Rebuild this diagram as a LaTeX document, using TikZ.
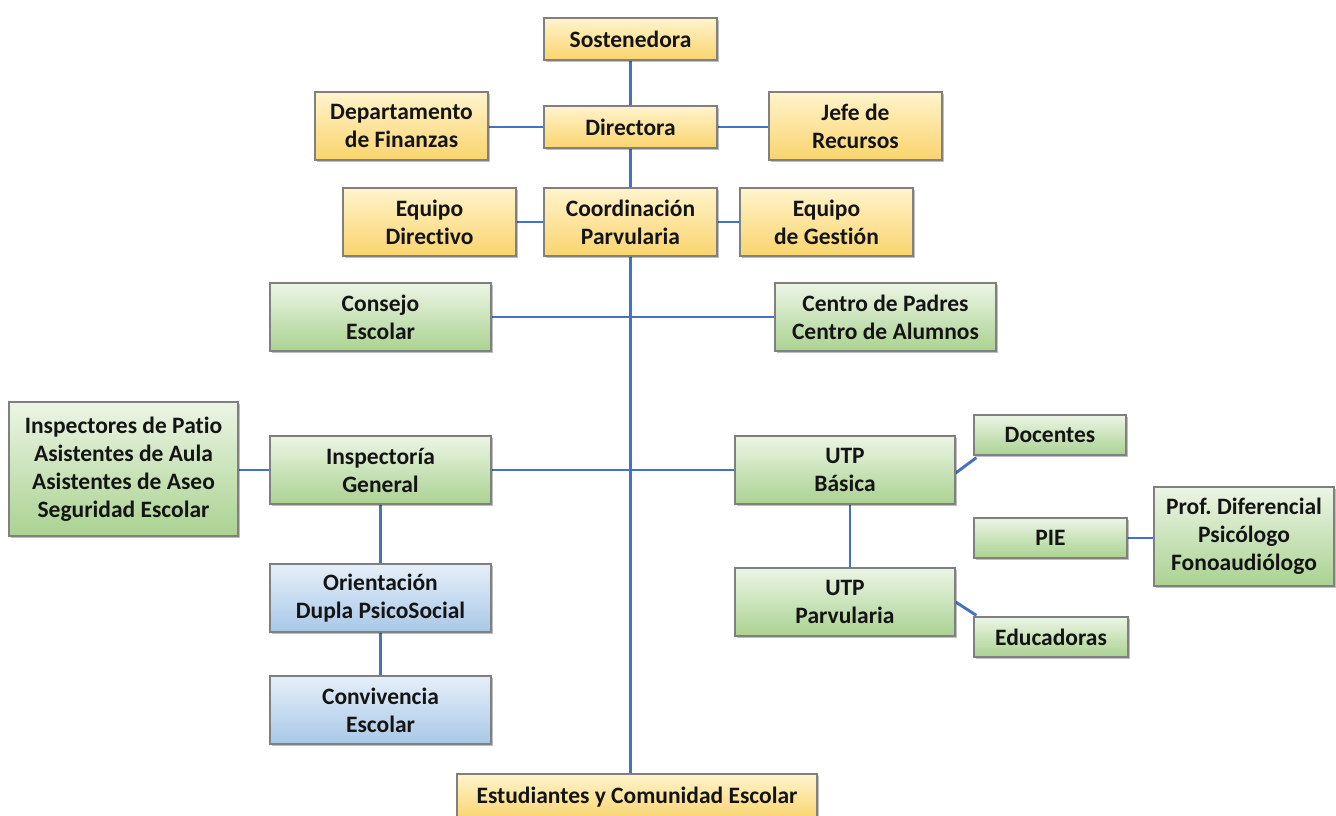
\documentclass[tikz,border=0pt]{standalone}
\usepackage{fontspec}
\setmainfont{Carlito}[Ligatures=NoCommon]
\frenchspacing
\usetikzlibrary{backgrounds,shadows}
\definecolor{lineblue}{RGB}{68,114,196}
\definecolor{boxborder}{RGB}{128,128,128}
\definecolor{ortop}{RGB}{255,244,204}
\definecolor{orbot}{RGB}{250,212,110}
\definecolor{grtop}{RGB}{236,245,229}
\definecolor{grbot}{RGB}{170,210,145}
\definecolor{bltop}{RGB}{230,239,249}
\definecolor{blbot}{RGB}{168,200,232}
\definecolor{txt}{RGB}{20,20,20}
\tikzset{
  box/.style={draw=boxborder, line width=1.3pt, align=center, inner sep=0pt,
    text=txt, font=\bfseries\fontsize{23.5}{28}\selectfont,
    drop shadow={shadow xshift=1.5pt, shadow yshift=-1.5pt, opacity=0.25, fill=black}},
  orbox/.style={box, top color=ortop, bottom color=orbot},
  grbox/.style={box, top color=grtop, bottom color=grbot},
  blbox/.style={box, top color=bltop, bottom color=blbot},
  conn/.style={draw=lineblue, line width=2.9pt},
  sz/.style 2 args={minimum width=#1pt, minimum height=#2pt}
}
\begin{document}
\begin{tikzpicture}[x=1pt,y=-1pt]
\useasboundingbox (0,0) rectangle (1336,815);
\node[orbox, sz={173}{42}] (sos) at (630.5,39) {Sostenedora};
\node[orbox, sz={173}{42}] (dir) at (630.5,127) {Directora};
\node[orbox, sz={173}{68}] (fin) at (401.5,126) {Departamento\\de Finanzas};
\node[orbox, sz={173}{68}] (jef) at (855.5,126) {Jefe de\\Recursos};
\node[orbox, sz={173}{68}] (eqd) at (429.5,222) {Equipo\\Directivo};
\node[orbox, sz={173}{68}] (coo) at (630.5,222) {Coordinación\\Parvularia};
\node[orbox, sz={173}{68}] (eqg) at (826.5,222) {Equipo\\de Gestión};
\node[grbox, sz={221}{68}] (cons) at (380.5,317) {Consejo\\Escolar};
\node[grbox, sz={221}{68}] (cent) at (885.5,317) {Centro de Padres\\Centro de Alumnos};
\node[grbox, sz={229}{134}] (ins) at (123.5,469) {Inspectores de Patio\\Asistentes de Aula\\Asistentes de Aseo\\Seguridad Escolar};
\node[grbox, sz={221}{68}] (ig) at (380.5,470) {Inspectoría\\General};
\node[grbox, sz={220}{68}] (utpb) at (845,470) {UTP\\Básica};
\node[grbox, sz={152}{40}] (doc) at (1050,435) {Docentes};
\node[grbox, sz={153}{40}] (pie) at (1050.5,538) {PIE};
\node[grbox, sz={180}{99}] (prof) at (1244,536.5) {Prof. Diferencial\\Psicólogo\\Fonoaudiólogo};
\node[grbox, sz={220}{68}] (utpp) at (845,602) {UTP\\Parvularia};
\node[grbox, sz={154}{40}] (edu) at (1051,637) {Educadoras};
\node[blbox, sz={221}{68}] (ori) at (380.5,598) {Orientación\\Dupla PsicoSocial};
\node[blbox, sz={221}{68}] (conv) at (380.5,710) {Convivencia\\Escolar};
\node[orbox, sz={360}{46}] (est) at (637,797) {Estudiantes y Comunidad Escolar};
\begin{scope}[on background layer]
\fill[white] (0,0) rectangle (1336,815);
\draw[conn] (sos.south) -- (sos.south |- est.north);
\draw[conn] (fin.east |- dir.west) -- (dir.west);
\draw[conn] (dir.east) -- (jef.west |- dir.east);
\draw[conn] (eqd.east) -- (coo.west);
\draw[conn] (coo.east) -- (eqg.west);
\draw[conn] (cons.east) -- (cent.west);
\draw[conn] (ins.east |- ig.west) -- (ig.west);
\draw[conn] (ig.east) -- (utpb.west);
\draw[conn] (ig.south) -- (ori.north);
\draw[conn] (ori.south) -- (conv.north);
\draw[conn] ([xshift=5pt]utpb.south) -- ([xshift=5pt]utpp.north);
\draw[conn] ([yshift=-3pt]utpb.east) -- ([xshift=3pt,yshift=-2pt]doc.south west);
\draw[conn] (utpp.east) -- ([xshift=3pt,yshift=1pt]edu.north west);
\draw[conn] (pie.east) -- (prof.west |- pie.east);
\end{scope}
\end{tikzpicture}
\end{document}
